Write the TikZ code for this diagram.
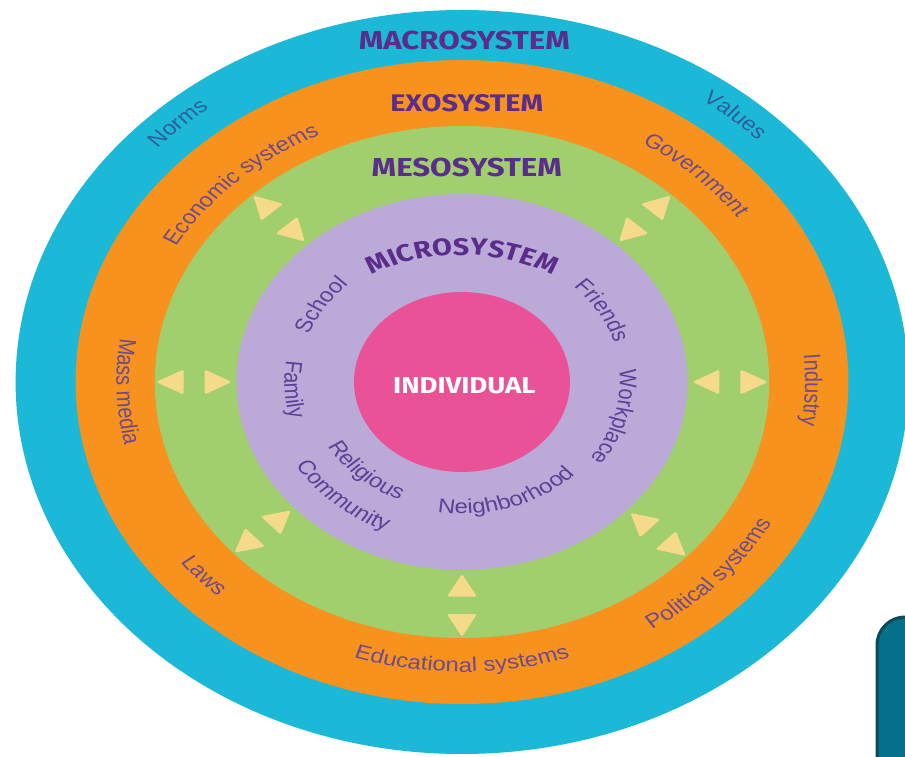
\documentclass[tikz,border=0pt]{standalone}
\usepackage{fontspec}
\setmainfont{Liberation Sans}
\newfontfamily\headfont{Fira Sans}
\usetikzlibrary{decorations.text}

\definecolor{macrocol}{HTML}{1BB9D7}
\definecolor{exocol}{HTML}{F7921E}
\definecolor{mesocol}{HTML}{A2CF6D}
\definecolor{microcol}{HTML}{BBAAD7}
\definecolor{corecol}{HTML}{EA5297}
\definecolor{arrowfill}{HTML}{F6DA8B}
\definecolor{titlepurple}{HTML}{5A2C8C}
\definecolor{exotext}{HTML}{6E4A8E}
\definecolor{macrotext}{HTML}{2F5DA0}
\definecolor{microtext}{HTML}{5C3F96}
\definecolor{panelfill}{HTML}{05708A}
\definecolor{paneledge}{HTML}{0C4A5A}

\newcommand\lblfont{\fontsize{20}{24}\selectfont}
% text set along a circular arc: radius, start angle, end angle, format, text
\newcommand\arctext[5]{%
  \path[decorate,decoration={text along path,text align=center,text={|#4|#5}}]
    (#2:#1) arc[start angle=#2,end angle=#3,radius=#1];}

\begin{document}
\begin{tikzpicture}[x=1pt,y=1pt,
  tri/.style={fill=arrowfill,rounded corners=1.5pt},
  ringtitle/.style={font=\headfont\bfseries\fontsize{#1}{#1}\selectfont,
    text=titlepurple,inner sep=0pt}]
\useasboundingbox (-462,-375) rectangle (443,382);
\clip (-462,-375) rectangle (443,382);
\fill[white] (-462,-375) rectangle (443,382);

% side panel in the lower right corner
\draw[fill=panelfill,draw=paneledge,line width=3,rounded corners=28]
  (415,-430) rectangle (520,-235);

% the nested systems are circles, stretched sideways
\begin{scope}[transform canvas={xscale=1.2}]
  \fill[macrocol] (0,0) circle[radius=372];
  \fill[exocol]   (0,0) circle[radius=322];
  \fill[mesocol]  (0,0) circle[radius=256];
  \fill[microcol] (0,0) circle[radius=188];
  \fill[corecol]  (0,0) circle[radius=90];

  % paired arrowheads across the mesosystem
  \foreach \a in {0,47,133,180,222,270,317} {
    \fill[tri,rotate=\a] (255,0) -- (232,12.5) -- (232,-12.5) -- cycle;
    \fill[tri,rotate=\a] (192,0) -- (214.5,12.5) -- (214.5,-12.5) -- cycle;
  }

  % ring titles
  \node[ringtitle=26] (macro) at (2,342) {MACROSYSTEM};
  \node[ringtitle=24] (exo)   at (4,279) {EXOSYSTEM};
  \node[ringtitle=26] (meso)  at (4,215) {MESOSYSTEM};
  \path[decorate,decoration={text along path,text align=center,
      text={|\headfont\bfseries\fontsize{24}{24}\selectfont\color{titlepurple}|MICROSYSTEM}},
      shift={(0,-25)}]
    (125:152) arc[start angle=125,end angle=55,radius=152];
  \node[font=\headfont\bfseries\fontsize{23}{23}\selectfont,text=white,inner sep=0pt]
    (individual) at (2,-4) {INDIVIDUAL};

  % macrosystem
  \arctext{345}{172.5}{92.5}{\lblfont\color{macrotext}}{Norms}
  \arctext{345}{89.5}{9.5}{\lblfont\color{macrotext}}{Values}

  % exosystem
  \arctext{274}{173}{93}{\lblfont\color{exotext}}{Economic systems}
  \arctext{282}{86.7}{6.7}{\lblfont\color{exotext}}{Government}
  \arctext{286}{38.4}{-41.6}{\lblfont\color{exotext}}{Industry}
  \arctext{288}{142}{222}{\lblfont\color{exotext}}{Mass media}
  \arctext{296}{182}{262}{\lblfont\color{exotext}}{Laws}
  \arctext{290}{230}{310}{\lblfont\color{exotext}}{Educational systems}
  \arctext{294}{277}{357}{\lblfont\color{exotext}}{Political systems}

  % microsystem
  \arctext{136}{196.9}{96.9}{\lblfont\color{microtext}}{School}
  \arctext{133}{81.5}{-18.5}{\lblfont\color{microtext}}{Friends}
  \arctext{148}{133}{233}{\lblfont\color{microtext}}{Family}
  \arctext{131.5}{34.7}{-65.3}{\lblfont\color{microtext}}{Workplace}
  \arctext{129}{178}{278}{\lblfont\color{microtext}}{Religious}
  \arctext{162}{179}{279}{\lblfont\color{microtext}}{Community}
  \arctext{132}{238.3}{338.3}{\lblfont\color{microtext}}{Neighborhood}
\end{scope}
\end{tikzpicture}
\end{document}
